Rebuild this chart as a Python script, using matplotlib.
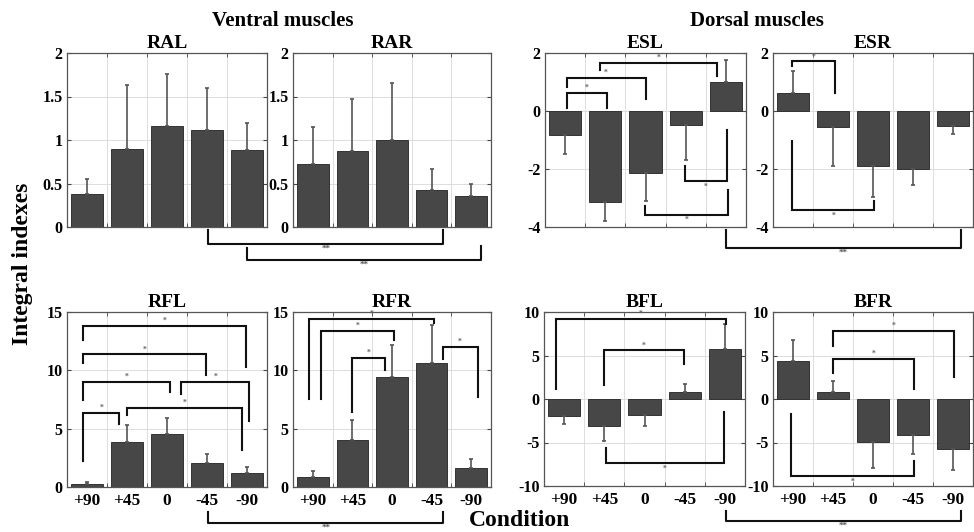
import numpy as np
import matplotlib.pyplot as plt
from matplotlib import transforms
from matplotlib.lines import Line2D

plt.rcParams['font.family'] = ['Liberation Serif', 'DejaVu Serif']
plt.rcParams['font.weight'] = 'bold'

conditions = ['+90', '+45', '0', '-45', '-90']

# bar means and one-sided errors
ral_mean = [0.38, 0.90, 1.16, 1.11, 0.89]
ral_err = [0.17, 0.73, 0.60, 0.49, 0.31]
rar_mean = [0.72, 0.87, 1.00, 0.43, 0.36]
rar_err = [0.43, 0.60, 0.65, 0.24, 0.13]
esl_mean = [-0.82, -3.14, -2.15, -0.47, 1.01]
esl_err = [0.66, 0.66, 0.96, 1.21, 0.74]
esr_mean = [0.62, -0.56, -1.91, -2.00, -0.51]
esr_err = [0.77, 1.35, 1.07, 0.56, 0.27]
rfl_mean = [0.23, 3.89, 4.55, 2.02, 1.24]
rfl_err = [0.23, 1.41, 1.39, 0.80, 0.49]
rfr_mean = [0.86, 4.03, 9.45, 10.66, 1.61]
rfr_err = [0.49, 1.73, 2.71, 3.26, 0.81]
bfl_mean = [-1.92, -3.12, -1.85, 0.77, 5.73]
bfl_err = [0.96, 1.69, 1.23, 0.96, 2.85]
bfr_mean = [4.42, 0.85, -4.92, -4.15, -5.69]
bfr_err = [2.39, 1.19, 3.04, 2.12, 2.50]

# significance brackets inside a panel: (x_left, x_right, y_left_end, y_bar, y_right_end)
esl_brk = [(1.04, 2.03, 0.10, 0.62, 0.10), (1.04, 3.0, 0.83, 1.13, 0.43),
           (1.88, 4.79, 1.43, 1.66, 1.20), (3.98, 5.02, -1.91, -2.43, -0.64),
           (2.99, 5.04, -3.28, -3.57, -2.71)]
esr_brk = [(0.98, 2.05, 1.54, 1.71, 0.62), (0.98, 3.03, -1.05, -3.40, -3.11)]
rfl_brk = [(0.91, 4.98, 12.6, 13.82, 10.25), (0.91, 3.98, 10.6, 11.37, 9.59),
           (0.91, 3.08, 7.43, 9.01, 8.15), (3.35, 5.06, 8.0, 9.01, 5.70),
           (0.91, 1.80, 2.25, 6.36, 5.41), (1.99, 4.87, 6.13, 6.80, 3.17)]
rfr_brk = [(0.91, 4.07, 7.57, 14.4, 14.05), (1.20, 3.06, 7.57, 13.39, 12.6),
           (1.98, 2.82, 6.42, 11.03, 10.02), (4.28, 5.16, 10.94, 11.98, 7.72)]
bfl_brk = [(0.80, 5.02, 1.15, 9.23, 8.65), (1.99, 3.98, 1.65, 5.58, 4.04),
           (2.03, 4.98, -5.58, -7.38, -1.54)]
bfr_brk = [(1.99, 5.03, 6.04, 7.81, 2.5), (1.99, 4.03, 2.96, 4.62, 1.15),
           (0.94, 4.03, -1.73, -8.85, -7.12)]

# brackets linking two panels: (left, x_left, right, x_right, y_left_end, y_bar, y_right_end) in axes fraction
cross_brk = [('RAL', 4.03, 'RAR', 4.30, -0.02, -0.095, -0.02),
             ('RAL', 5.0, 'RAR', 5.25, -0.12, -0.19, -0.11),
             ('ESL', 5.0, 'ESR', 5.2, -0.02, -0.12, -0.02),
             ('RFL', 4.03, 'RFR', 4.30, -0.143, -0.205, -0.143),
             ('BFL', 5.02, 'BFR', 5.2, -0.143, -0.2, -0.143)]

panels = {
    'RAL': (ral_mean, ral_err, (0, 2), [0, 0.5, 1, 1.5, 2], ['0', '0.5', '1', '1.5', '2'], []),
    'RAR': (rar_mean, rar_err, (0, 2), [0, 0.5, 1, 1.5, 2], ['0', '0.5', '1', '1.5', '2'], []),
    'ESL': (esl_mean, esl_err, (-4, 2), [-4, -2, 0, 2], ['-4', '-2', '0', '2'], esl_brk),
    'ESR': (esr_mean, esr_err, (-4, 2), [-4, -2, 0, 2], ['-4', '-2', '0', '2'], esr_brk),
    'RFL': (rfl_mean, rfl_err, (0, 15), [0, 5, 10, 15], ['0', '5', '10', '15'], rfl_brk),
    'RFR': (rfr_mean, rfr_err, (0, 15), [0, 5, 10, 15], ['0', '5', '10', '15'], rfr_brk),
    'BFL': (bfl_mean, bfl_err, (-10, 10), [-10, -5, 0, 5, 10], ['-10', '-5', '0', '5', '10'], bfl_brk),
    'BFR': (bfr_mean, bfr_err, (-10, 10), [-10, -5, 0, 5, 10], ['-10', '-5', '0', '5', '10'], bfr_brk),
}

W, H = 974, 532
# panel boxes in pixels: left, top, right, bottom
boxes = {'RAL': (67, 53, 267, 227), 'RAR': (293, 53, 491, 227),
         'ESL': (545, 53, 746, 227), 'ESR': (773, 53, 973, 227),
         'RFL': (67, 312, 267, 487), 'RFR': (293, 312, 491, 487),
         'BFL': (544, 312, 745, 486), 'BFR': (773, 312, 973, 486)}

fig = plt.figure(figsize=(W / 100, H / 100), dpi=100)
bar_col = '#474747'
axes = {}
for name, (mean, err, ylim, yt, ytl, brk) in panels.items():
    l, t, r, b = boxes[name]
    ax = fig.add_axes([l / W, 1 - b / H, (r - l) / W, (b - t) / H])
    axes[name] = ax
    x = np.arange(1, 6)
    mean = np.array(mean)
    err = np.array(err)
    lo = np.where(mean < 0, err, 0)
    hi = np.where(mean >= 0, err, 0)
    ax.bar(x, mean, width=0.8, color=bar_col, edgecolor='#222222', linewidth=0.6, zorder=2)
    ax.errorbar(x, mean, yerr=[lo, hi], fmt='none', ecolor='#555555', elinewidth=1.2,
                capsize=1.5, capthick=1.2, zorder=3)
    ax.set_xlim(0.5, 5.5)
    ax.set_ylim(*ylim)
    ax.set_yticks(yt)
    ax.set_yticklabels(ytl, fontsize=11.5, fontweight='bold')
    ax.set_xticks([1.5, 2.5, 3.5, 4.5], minor=True)
    ax.set_xticks(x)
    if name[:2] in ('RF', 'BF'):
        ax.set_xticklabels(conditions, fontsize=12.5, fontweight='bold')
    else:
        ax.set_xticklabels([])
    ax.tick_params(axis='x', which='major', length=0, pad=4)
    ax.tick_params(axis='x', which='minor', direction='in', length=3, top=True, bottom=True, color='#444444')
    ax.tick_params(axis='y', direction='in', length=3, left=True, right=True, pad=3, color='#444444')
    ax.grid(True, axis='x', which='minor', color='#dddddd', linewidth=0.7, zorder=0)
    ax.grid(True, axis='y', which='major', color='#dddddd', linewidth=0.7, zorder=0)
    ax.set_axisbelow(True)
    for s in ax.spines.values():
        s.set_color('#555555')
        s.set_linewidth(0.9)
    ax.set_title(name, fontsize=14, fontweight='bold', pad=3.5)

    span = ylim[1] - ylim[0]
    for (x1, x2, y1, yb, y2) in brk:
        ax.plot([x1, x1, x2, x2], [y1, yb, yb, y2], color='#111111', lw=1.5,
                clip_on=False, zorder=4, solid_joinstyle='miter')
        if yb > max(y1, y2):
            ax.text((x1 + x2) / 2, yb + 0.006 * span, '*', ha='center', va='bottom',
                    fontsize=5.5, color='#666666', zorder=5)
        else:
            ax.text((x1 + x2) / 2, yb - 0.01 * span, '*', ha='center', va='top',
                    fontsize=5.5, color='#666666', zorder=5)

# cross-panel brackets drawn in figure coordinates
inv = fig.transFigure.inverted()
for (la, xl, ra, xr, yl, yb, yr) in cross_brk:
    tl = transforms.blended_transform_factory(axes[la].transData, axes[la].transAxes)
    tr = transforms.blended_transform_factory(axes[ra].transData, axes[ra].transAxes)
    p1 = inv.transform(tl.transform((xl, yl)))
    p2 = inv.transform(tl.transform((xl, yb)))
    p3 = inv.transform(tr.transform((xr, yb)))
    p4 = inv.transform(tr.transform((xr, yr)))
    fig.add_artist(Line2D([p1[0], p2[0], p3[0], p4[0]], [p1[1], p2[1], p3[1], p4[1]],
                          color='#111111', lw=1.5, transform=fig.transFigure))
    fig.text((p2[0] + p3[0]) / 2, p2[1] - 0.002, '**', ha='center', va='top',
             fontsize=6.5, color='#555555')

fig.text(283 / W, 1 - 21 / H, 'Ventral muscles', ha='center', va='center', fontsize=15, fontweight='bold')
fig.text(757 / W, 1 - 21 / H, 'Dorsal muscles', ha='center', va='center', fontsize=15, fontweight='bold')
fig.text(23 / W, 1 - 264 / H, 'Integral indexes', ha='center', va='center', rotation=90,
         fontsize=17, fontweight='bold')
fig.text(520 / W, 1 - 521 / H, 'Condition', ha='center', va='center', fontsize=17, fontweight='bold')

fig.savefig('out.png', dpi=100)
